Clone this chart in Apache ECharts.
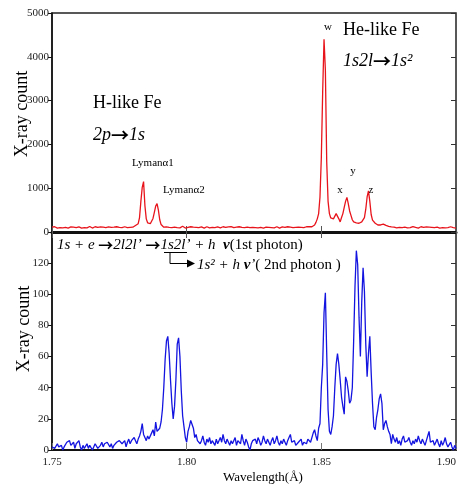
<!DOCTYPE html>
<html>
<head>
<meta charset="utf-8">
<script src="https://cdn.jsdelivr.net/npm/echarts@6/dist/echarts.min.js"></script>
<style>
  html, body { margin: 0; padding: 0; background: #fff; }
  #chart { width: 459px; height: 488px; }
</style>
</head>
<body>
<div id="chart"></div>
<script>
// Wavelength sampling of both spectra (Å)
const wavelengthStart = 1.75;
const wavelengthStep = 0.0005;

// Axis ticks
const wavelengthTicks = [1.75, 1.80, 1.85, 1.90];
const upperCountTicks = [0, 1000, 2000, 3000, 4000, 5000];
const lowerCountTicks = [0, 20, 40, 60, 80, 100, 120];

// Upper panel: H-like / He-like Fe spectrum (X-ray counts per bin)
const upperCounts = [
  110,95,120,105,90,115,100,125,95,110,
  105,120,90,100,115,95,110,130,100,95,
  115,105,90,120,100,110,95,105,125,100,
  90,110,120,95,105,100,115,90,110,125,
  100,95,115,140,105,90,110,100,120,95,
  105,115,100,90,120,110,100,125,105,95,
  110,130,150,160,190,330,700,1020,1150,600,
  300,210,180,190,230,310,450,590,650,500,
  280,170,130,110,100,115,95,105,120,100,
  90,110,125,100,105,95,110,130,100,90,
  115,105,95,120,100,110,90,105,125,100,
  95,115,105,90,110,120,100,95,110,105,
  130,100,90,115,105,95,110,120,100,105,
  90,115,100,125,110,100,95,110,105,120,
  90,105,115,100,95,110,125,100,90,105,
  115,100,110,95,120,105,100,90,115,110,
  95,105,125,100,110,95,105,120,100,90,
  110,115,100,105,95,120,105,110,95,100,
  115,105,125,110,100,105,115,100,110,120,
  105,125,130,120,140,160,220,300,420,800,
  1700,3200,4400,3700,1600,700,420,320,280,300,
  330,420,460,300,230,330,420,560,700,790,
  650,480,380,280,230,200,210,190,200,210,
  230,260,330,520,800,940,700,400,270,230,
  200,180,160,150,160,170,180,170,150,140,
  130,120,115,105,110,100,95,110,105,120,
  100,90,110,105,95,115,100,110,125,95,
  105,100,90,110,120,100,105,95,115,100,
  110,90,105,120,100,95,110,105,90,115,
  100,105,95,110,100,105,120,95,100,110,
  90
];

// Lower panel: dielectronic two-photon coincidence spectrum (X-ray counts per bin)
const lowerCounts = [
  2,3,1,2,4,2,1,3,0,2,
  3,5,4,6,3,2,5,1,4,3,
  6,2,0,3,1,2,4,1,3,2,
  0,2,4,3,1,2,3,5,2,4,
  3,5,6,2,4,1,3,2,5,4,
  6,7,4,3,6,2,5,7,4,6,
  5,8,6,4,7,9,12,17,10,8,
  6,9,7,8,11,13,9,18,12,11,
  14,18,26,40,58,70,73,62,45,30,
  20,28,45,68,72,60,38,22,15,8,
  5,12,15,19,20,14,8,10,6,7,
  4,6,9,5,3,7,5,8,4,6,
  5,3,7,4,6,8,5,10,6,4,
  7,5,3,6,4,5,8,3,6,5,
  4,10,6,3,7,5,2,0,4,6,
  5,7,4,8,6,3,5,9,6,4,
  7,5,3,6,8,4,6,9,5,3,
  6,4,7,5,3,6,8,10,5,4,
  6,3,2,5,4,7,3,5,6,4,
  7,8,5,6,11,13,9,6,14,17,
  40,55,88,101,62,26,12,10,15,22,
  40,55,62,55,45,34,28,23,47,44,
  38,30,32,40,70,105,128,119,85,60,
  95,117,102,68,47,62,73,50,30,15,
  13,21,26,33,36,30,13,17,19,15,
  12,10,4,10,7,5,8,4,6,3,
  7,9,5,4,6,8,5,3,6,4,
  7,5,9,6,4,7,5,3,6,9,
  12,5,4,6,3,5,7,4,2,6,
  3,5,8,4,2,1,5,2,0,3,
  1
];

const toPairs = counts => counts.map((c, i) => [+(wavelengthStart + i * wavelengthStep).toFixed(4), c]);

const SERIF = "'Liberation Serif', 'Times New Roman', serif";
const ARROW_FONT = "'Noto Sans CJK JP', 'DejaVu Sans', sans-serif";
const wMin = wavelengthTicks[0], wMax = wavelengthTicks[wavelengthTicks.length - 1];
const wInterval = +(wavelengthTicks[1] - wavelengthTicks[0]).toFixed(2);

const labelStyle = { fontFamily: SERIF, fontSize: 11, color: '#222' };

function xAxisFor(grid, position, extra) {
  return Object.assign({
    type: 'value', gridIndex: grid, position: position,
    min: wMin, max: wMax, interval: wInterval,
    axisLine: { show: false },
    axisTick: { show: true, inside: true, length: 6, lineStyle: { color: '#555', width: 1 } },
    axisLabel: { show: false },
    splitLine: { show: false }
  }, extra || {});
}

function yAxisFor(grid, ticks, position, extra) {
  return Object.assign({
    type: 'value', gridIndex: grid, position: position,
    min: ticks[0], max: extra && extra.max != null ? extra.max : ticks[ticks.length - 1],
    interval: ticks[1] - ticks[0],
    axisLine: { show: false },
    axisTick: { show: true, inside: true, length: 5, lineStyle: { color: '#333', width: 1 } },
    axisLabel: { show: false },
    splitLine: { show: false }
  }, extra || {});
}

// rich-text styles shared by the annotation labels
const richItalic = (size) => ({
  i: { font: 'italic ' + size + 'px ' + SERIF, fill: '#000' },
  a: { font: 'bold ' + size + 'px ' + ARROW_FONT, fill: '#000' },
  n: { font: 'italic bold ' + size + 'px ' + SERIF, fill: '#000' },
  r: { font: size + 'px ' + SERIF, fill: '#000' }
});

const chart = echarts.init(document.getElementById('chart'), null, { renderer: 'canvas' });

chart.setOption({
  animation: false,
  backgroundColor: '#fff',
  grid: [
    { left: 52, top: 13, width: 404, height: 219, show: true, borderColor: '#222', borderWidth: 1.5,
      backgroundColor: 'transparent', outerBoundsMode: 'none', containLabel: false },
    { left: 52, top: 232, width: 404, height: 218, show: true, borderColor: '#222', borderWidth: 1.5,
      backgroundColor: 'transparent', outerBoundsMode: 'none', containLabel: false }
  ],
  xAxis: [
    xAxisFor(0, 'bottom', { axisLine: { show: true, lineStyle: { color: '#111', width: 3 } } }),
    xAxisFor(0, 'top'),
    xAxisFor(1, 'bottom', {
      axisLine: { show: true, lineStyle: { color: '#111', width: 2 } },
      axisTick: { show: true, inside: true, length: 7, lineStyle: { color: '#777', width: 1 } },
      axisLabel: Object.assign({ show: true, margin: 7, alignMaxLabel: 'right',
        formatter: v => v.toFixed(2) }, labelStyle)
    })
  ],
  yAxis: [
    yAxisFor(0, upperCountTicks, 'left', {
      axisLine: { show: true, lineStyle: { color: '#111', width: 1.5 } },
      axisTick: { show: true, inside: false, length: 4, lineStyle: { color: '#111', width: 1 } },
      axisLabel: Object.assign({ show: true, margin: 3, formatter: v => String(v) }, labelStyle)
    }),
    yAxisFor(0, upperCountTicks, 'right'),
    yAxisFor(1, lowerCountTicks, 'left', {
      max: 140,
      axisLine: { show: true, lineStyle: { color: '#111', width: 1.5 } },
      axisTick: { show: true, inside: false, length: 4, lineStyle: { color: '#111', width: 1 } },
      axisLabel: Object.assign({ show: true, margin: 3, showMaxLabel: false,
        formatter: v => (v > lowerCountTicks[lowerCountTicks.length - 1] ? '' : String(v)) }, labelStyle)
    }),
    yAxisFor(1, lowerCountTicks, 'right', { max: 140 })
  ],
  series: [
    {
      type: 'line', xAxisIndex: 0, yAxisIndex: 0, data: toPairs(upperCounts),
      showSymbol: false, symbol: 'none',
      lineStyle: { color: '#e8141c', width: 1.3 }
    },
    {
      type: 'line', xAxisIndex: 2, yAxisIndex: 2, data: toPairs(lowerCounts),
      showSymbol: false, symbol: 'none',
      lineStyle: { color: '#1414e0', width: 1.3 }
    }
  ],
  graphic: [
    // axis titles
    { type: 'text', x: 22, y: 114, rotation: Math.PI / 2,
      style: { text: 'X-ray count', font: '18px ' + SERIF, fill: '#000', align: 'center', verticalAlign: 'middle' } },
    { type: 'text', x: 24, y: 329, rotation: Math.PI / 2,
      style: { text: 'X-ray count', font: '18px ' + SERIF, fill: '#000', align: 'center', verticalAlign: 'middle' } },
    { type: 'text', x: 263, y: 478,
      style: { text: 'Wavelength(Å)', font: '13px ' + SERIF, fill: '#000', align: 'center', verticalAlign: 'middle' } },

    // upper panel annotations
    { type: 'text', x: 93, y: 103,
      style: { text: 'H-like Fe', font: '18px ' + SERIF, fill: '#000', verticalAlign: 'middle' } },
    { type: 'text', x: 93, y: 135,
      style: { text: '{i|2p}{a|→}{i|1s}', verticalAlign: 'middle', rich: richItalic(18) } },
    { type: 'text', x: 132, y: 163,
      style: { text: 'Lymanα1', font: '11px ' + SERIF, fill: '#000', verticalAlign: 'middle' } },
    { type: 'text', x: 163, y: 190,
      style: { text: 'Lymanα2', font: '11px ' + SERIF, fill: '#000', verticalAlign: 'middle' } },
    { type: 'text', x: 328, y: 27,
      style: { text: 'w', font: '11px ' + SERIF, fill: '#000', align: 'center', verticalAlign: 'middle' } },
    { type: 'text', x: 343, y: 30,
      style: { text: 'He-like Fe', font: '18px ' + SERIF, fill: '#000', verticalAlign: 'middle' } },
    { type: 'text', x: 343, y: 61,
      style: { text: '{i|1s2l}{a|→}{i|1s²}', verticalAlign: 'middle', rich: richItalic(18) } },
    { type: 'text', x: 353, y: 171,
      style: { text: 'y', font: '11px ' + SERIF, fill: '#000', align: 'center', verticalAlign: 'middle' } },
    { type: 'text', x: 340, y: 190,
      style: { text: 'x', font: '11px ' + SERIF, fill: '#000', align: 'center', verticalAlign: 'middle' } },
    { type: 'text', x: 371, y: 190,
      style: { text: 'z', font: '11px ' + SERIF, fill: '#000', align: 'center', verticalAlign: 'middle' } },

    // lower panel: process equation
    { type: 'text', x: 57, y: 245,
      style: {
        text: '{i|1s + e }{a|→}{i|2l2l’ }{a|→}{i|1s2l’ + h  }{n|ν}{r|(1st photon)}',
        verticalAlign: 'middle', rich: richItalic(15)
      } },
    { type: 'line', shape: { x1: 164, y1: 252.5, x2: 187, y2: 252.5 }, style: { stroke: '#000', lineWidth: 1 } },
    { type: 'polyline', shape: { points: [[170, 252.5], [170, 263.5], [188, 263.5]] }, style: { stroke: '#000', lineWidth: 1, fill: null } },
    { type: 'polygon', shape: { points: [[187, 259.5], [195, 263.5], [187, 267.5]] }, style: { fill: '#000' } },
    { type: 'text', x: 197, y: 265,
      style: {
        text: '{i|1s² + h }{n|ν}{i|’}{r|( 2nd photon )}',
        verticalAlign: 'middle', rich: richItalic(15)
      } }
  ]
});
</script>
</body>
</html>
